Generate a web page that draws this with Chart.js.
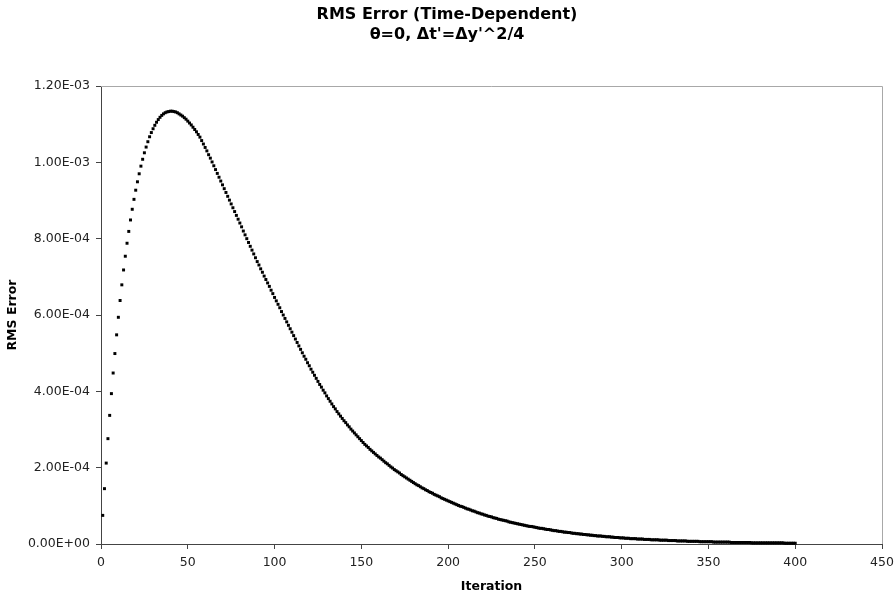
<!DOCTYPE html>
<html>
<head>
<meta charset="utf-8">
<script src="https://cdn.jsdelivr.net/npm/chart.js@4/dist/chart.umd.min.js"></script>
<style>
  html, body { margin: 0; background: #fff; }
  #wrap { width: 894px; height: 599px; }
</style>
</head>
<body>
<div id="wrap"><canvas id="chart"></canvas></div>
<script>
// RMS error per iteration, in units of 1e-6 (iterations start at 1)
const firstIteration = 1;
const errorUnit = 1e-6;
const rmsError = [
  75, 145, 212, 276, 337, 394, 448, 499, 548, 594,
  638, 679, 718, 754, 788, 819, 849, 877, 903, 927,
  949, 970, 990, 1008, 1025, 1040, 1054, 1067, 1078, 1088,
  1097, 1105, 1112, 1118, 1123, 1127, 1130, 1132, 1133, 1134,
  1134, 1133, 1132, 1130, 1127, 1124, 1121, 1117, 1113, 1108,
  1103, 1098, 1092, 1086, 1080, 1073, 1066, 1057, 1048, 1039,
  1030, 1020, 1011, 1001, 991, 981, 971, 961, 951, 941,
  931, 921, 911, 901, 891, 881, 871, 861, 851, 841,
  831, 820, 810, 800, 790, 780, 770, 760, 750, 740,
  731, 721, 712, 702, 693, 684, 675, 665, 656, 646,
  637, 628, 619, 609, 600, 591, 582, 573, 564, 555,
  546, 537, 528, 519, 510, 501, 492, 484, 475, 467,
  458, 450, 442, 434, 426, 418, 411, 403, 396, 388,
  381, 374, 367, 360, 354, 347, 341, 335, 329, 323,
  318, 312, 307, 301, 296, 291, 286, 281, 276, 271,
  266, 261, 257, 253, 248, 244, 240, 236, 232, 228,
  225, 221, 217, 213, 210, 206, 202, 199, 195, 192,
  189, 186, 182, 179, 176, 173, 170, 167, 164, 161,
  158, 155, 153, 150, 147, 145, 142, 140, 137, 135,
  133, 130, 128, 126, 124, 121, 119, 117, 115, 113,
  111, 109, 107, 105, 103, 101, 99, 98, 96, 94,
  92, 91, 89, 87, 86, 84, 82, 81, 79, 78,
  76, 75, 73, 72, 71, 69, 68, 67, 65, 64,
  63, 62, 61, 60, 58, 57, 56, 55, 54, 53,
  52, 51, 50, 49, 48, 47, 46, 46, 45, 44,
  43, 42, 41, 41, 40, 39, 38, 38, 37, 36,
  35, 35, 34, 33, 33, 32, 31, 31, 30, 30,
  29, 28, 28, 27, 27, 26, 26, 25, 25, 24,
  24, 23, 23, 22, 22, 21, 21, 21, 20, 20,
  19, 19, 19, 18, 18, 17, 17, 17, 16, 16,
  16, 15, 15, 15, 14, 14, 14, 14, 13, 13,
  13, 13, 12, 12, 12, 12, 11, 11, 11, 11,
  11, 10, 10, 10, 10, 10, 9, 9, 9, 9,
  9, 8, 8, 8, 8, 8, 8, 7, 7, 7,
  7, 7, 7, 7, 6, 6, 6, 6, 6, 6,
  6, 6, 5, 5, 5, 5, 5, 5, 5, 5,
  5, 5, 4, 4, 4, 4, 4, 4, 4, 4,
  4, 4, 4, 4, 3, 3, 3, 3, 3, 3,
  3, 3, 3, 3, 3, 3, 3, 3, 3, 3,
  3, 3, 3, 2, 2, 2, 2, 2, 2, 2
];

const xTicks = { min: 0, max: 450, step: 50 };
const yTicks = { min: 0, max: 1.2e-3, step: 2e-4 };

const titleLines = ['RMS Error (Time-Dependent)', "\u03b8=0, \u0394t'=\u0394y'^2/4"];

const points = rmsError.map((v, i) => ({ x: firstIteration + i, y: v * errorUnit }));

// Excel-style exponent labels: 1.20E-03
function sciLabel(v) {
  const [m, e] = Number(v).toExponential(2).split('e');
  const exp = parseInt(e, 10);
  return m + 'E' + (exp < 0 ? '-' : '+') + String(Math.abs(exp)).padStart(2, '0');
}

// light frame on the top and right of the plot area
const plotFrame = {
  id: 'plotFrame',
  afterDatasetsDraw(chart) {
    const { ctx, chartArea: a } = chart;
    ctx.save();
    ctx.strokeStyle = '#a8a8a8';
    ctx.lineWidth = 1;
    ctx.beginPath();
    ctx.moveTo(a.left, a.top + 0.5);
    ctx.lineTo(a.right + 0.5, a.top + 0.5);
    ctx.lineTo(a.right + 0.5, a.bottom);
    ctx.stroke();
    ctx.restore();
  }
};

const font = 'DejaVu Sans, Verdana, sans-serif';

new Chart(document.getElementById('chart'), {
  type: 'scatter',
  data: {
    datasets: [{
      label: 'RMS Error',
      data: points,
      showLine: false,
      pointStyle: 'rect',
      pointRadius: 2.1,
      pointHoverRadius: 2.1,
      pointBorderWidth: 0,
      pointBackgroundColor: '#000',
      clip: false
    }]
  },
  options: {
    responsive: true,
    maintainAspectRatio: false,
    animation: false,
    events: [],
    layout: { padding: 0 },
    plugins: {
      legend: { display: false },
      tooltip: { enabled: false },
      title: {
        display: true,
        text: titleLines,
        color: '#000',
        font: { family: font, size: 16, weight: 'bold', lineHeight: 1.25 },
        padding: { top: 5, bottom: 41 }
      }
    },
    scales: {
      x: {
        type: 'linear',
        min: xTicks.min,
        max: xTicks.max,
        afterFit(scale) {
          scale.height = 55;
          scale.paddingLeft = 0;
          scale.paddingRight = 12;
        },
        border: { color: '#444', width: 1 },
        grid: { drawOnChartArea: false, drawTicks: true, tickLength: 5, color: '#444' },
        ticks: {
          stepSize: xTicks.step,
          color: '#222',
          padding: 6,
          maxRotation: 0,
          font: { family: font, size: 12.5 }
        },
        title: {
          display: true,
          text: 'Iteration',
          color: '#000',
          font: { family: font, size: 12.5, weight: 'bold', lineHeight: 1.2 },
          padding: { top: 0, bottom: 5 }
        }
      },
      y: {
        type: 'linear',
        min: yTicks.min,
        max: yTicks.max,
        afterFit(scale) { scale.width = 101; },
        border: { color: '#444', width: 1 },
        grid: { drawOnChartArea: false, drawTicks: true, tickLength: 5, color: '#444' },
        ticks: {
          stepSize: yTicks.step,
          color: '#222',
          padding: 6,
          font: { family: font, size: 12.5 },
          callback: (v) => sciLabel(v)
        },
        title: {
          display: true,
          text: 'RMS Error',
          color: '#000',
          font: { family: font, size: 12.5, weight: 'bold', lineHeight: 1.2 },
          padding: { top: 5, bottom: 0 }
        }
      }
    }
  },
  plugins: [plotFrame]
});
</script>
</body>
</html>
